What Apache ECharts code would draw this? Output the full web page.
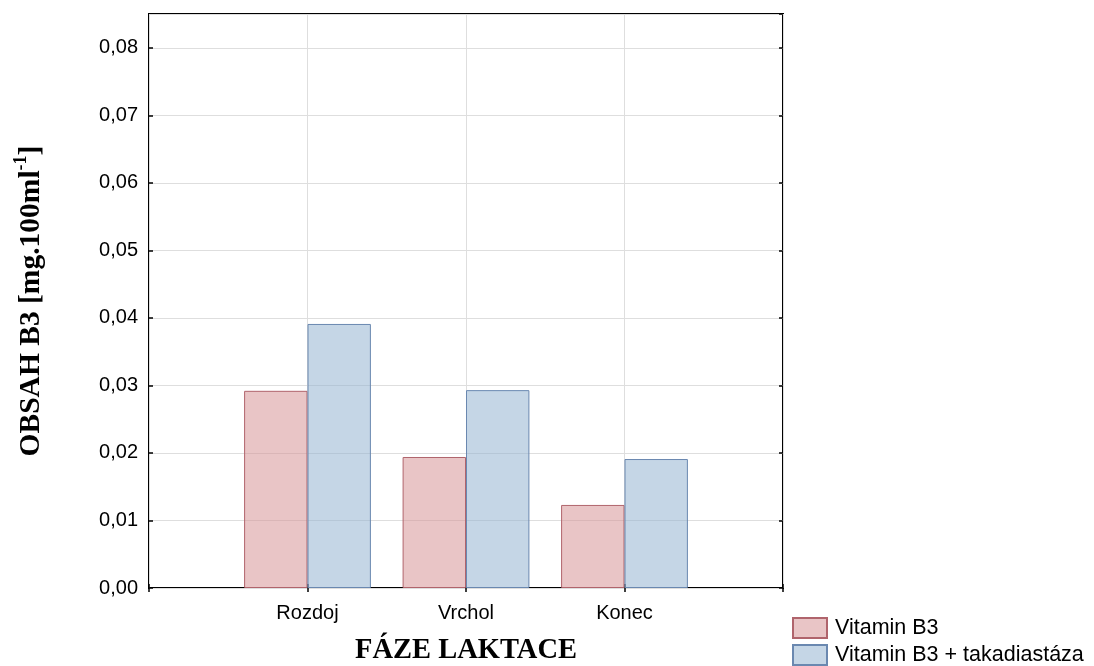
<!DOCTYPE html>
<html>
<head>
<meta charset="utf-8">
<script src="https://cdn.jsdelivr.net/npm/echarts@6/dist/echarts.min.js"></script>
<style>
  html, body { margin: 0; padding: 0; background: #fff; }
  #chart { width: 1094px; height: 666px; }
</style>
</head>
<body>
<div id="chart"></div>
<script>
// Lactation phases and niacin content per phase
const categories = ['Rozdoj', 'Vrchol', 'Konec'];
const seriesNames = ['Vitamin B3', 'Vitamin B3 + takadiastáza'];
const vitaminB3 = [0.0292, 0.0194, 0.0123];
const vitaminB3Takadiastaza = [0.0391, 0.0293, 0.0191];
const yTicks = [0, 0.01, 0.02, 0.03, 0.04, 0.05, 0.06, 0.07, 0.08];

// Empty slots on both sides give the half-band margins of the plot
const axisCats = [''].concat(categories, ['']);
const pad = arr => [null].concat(arr, [null]);

const sans = '"Liberation Sans", Arial, sans-serif';
const serif = '"Liberation Serif", "Times New Roman", serif';
const fmt = v => {
  const hit = yTicks.some(t => Math.abs(t - v) < 1e-9);
  return hit ? v.toFixed(2).replace('.', ',') : '';
};
const tickStyle = { show: true, inside: true, length: 4, lineStyle: { color: '#000', width: 1.5 } };

const chart = echarts.init(document.getElementById('chart'), null, { renderer: 'canvas' });
chart.setOption({
  animation: false,
  backgroundColor: '#ffffff',
  grid: {
    left: 149, right: 311, top: 14, bottom: 78,
    outerBoundsMode: 'none',
    containLabel: false,
    show: true, borderColor: '#000', borderWidth: 2, backgroundColor: 'transparent'
  },
  legend: {
    orient: 'vertical',
    left: 792, top: 617,
    padding: 0,
    itemWidth: 34, itemHeight: 20, itemGap: 5,
    icon: 'rect',
    textStyle: { fontFamily: sans, fontSize: 21.5, color: '#000', padding: [0, 0, 0, 3] },
    data: seriesNames
  },
  xAxis: [{
    type: 'category',
    data: axisCats,
    boundaryGap: false,
    position: 'bottom',
    axisLine: { show: false },
    axisTick: tickStyle,
    axisLabel: { fontFamily: sans, fontSize: 20, color: '#000', margin: 15 },
    splitLine: { show: true, lineStyle: { color: '#dedede', width: 1 } },
    name: 'FÁZE LAKTACE',
    nameLocation: 'middle',
    nameGap: 48,
    nameTextStyle: { fontFamily: serif, fontWeight: 'bold', fontSize: 28.5, color: '#000' }
  }, {
    type: 'category',
    data: axisCats,
    boundaryGap: false,
    position: 'top',
    axisLine: { show: false },
    axisTick: tickStyle,
    axisLabel: { show: false },
    splitLine: { show: false }
  }],
  yAxis: [{
    type: 'value',
    min: 0, max: 0.085, interval: 0.01,
    axisLine: { show: false },
    axisTick: tickStyle,
    axisLabel: { fontFamily: sans, fontSize: 20, color: '#000', margin: 11, formatter: fmt, showMaxLabel: false },
    splitLine: { show: true, lineStyle: { color: '#dedede', width: 1 } },
    name: '{t|OBSAH B3 [mg.100ml}{s|-1}{t|]}',
    nameLocation: 'middle',
    nameRotate: 90,
    nameGap: 103,
    nameTextStyle: {
      rich: {
        t: { fontFamily: serif, fontWeight: 'bold', fontSize: 29.5, color: '#000', verticalAlign: 'bottom', lineHeight: 34 },
        s: { fontFamily: serif, fontWeight: 'bold', fontSize: 18, color: '#000', verticalAlign: 'top', lineHeight: 34, padding: [0, 0, 16, 0] }
      }
    }
  }, {
    type: 'value',
    min: 0, max: 0.085, interval: 0.01,
    position: 'right',
    axisLine: { show: false },
    axisTick: tickStyle,
    axisLabel: { show: false },
    splitLine: { show: false }
  }],
  series: [{
    name: seriesNames[0],
    type: 'bar',
    data: pad(vitaminB3),
    barGap: '0%',
    barCategoryGap: '20%',
    itemStyle: { color: 'rgba(215,150,152,0.55)', borderColor: '#b0646c', borderWidth: 1 }
  }, {
    name: seriesNames[1],
    type: 'bar',
    data: pad(vitaminB3Takadiastaza),
    barGap: '0%',
    barCategoryGap: '20%',
    itemStyle: { color: 'rgba(150,180,210,0.55)', borderColor: '#6a88b0', borderWidth: 1 }
  }]
});
</script>
</body>
</html>
